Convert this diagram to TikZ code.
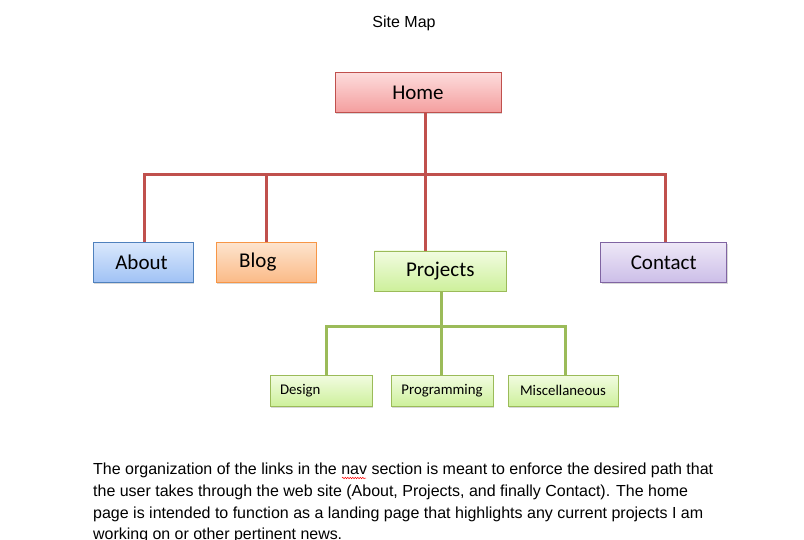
\documentclass[tikz,border=0pt]{standalone}
\usepackage{fontspec}
\setmainfont{Liberation Sans}
\newfontfamily\boxfont{Carlito}
\usepackage{graphicx}
\usetikzlibrary{shadows,decorations.pathmorphing}
\definecolor{redline}{RGB}{192,80,77}
\definecolor{greenline}{RGB}{155,187,89}
\definecolor{homeB}{RGB}{192,80,77}
\definecolor{homeT}{RGB}{253,220,220}
\definecolor{homeD}{RGB}{244,158,158}
\definecolor{aboutB}{RGB}{79,129,189}
\definecolor{aboutT}{RGB}{218,232,252}
\definecolor{aboutD}{RGB}{160,194,245}
\definecolor{blogB}{RGB}{247,150,70}
\definecolor{blogT}{RGB}{253,228,206}
\definecolor{blogD}{RGB}{251,186,135}
\definecolor{projB}{RGB}{155,187,89}
\definecolor{projT}{RGB}{242,252,225}
\definecolor{projD}{RGB}{205,240,155}
\definecolor{contB}{RGB}{128,100,162}
\definecolor{contT}{RGB}{238,232,247}
\definecolor{contD}{RGB}{204,190,232}
\tikzset{
  sbox/.style={draw, line width=0.9pt, inner sep=0pt, rectangle,
    font=\boxfont\fontsize{21}{25}\selectfont,
    drop shadow={shadow xshift=1pt, shadow yshift=-1.5pt, opacity=0.3}},
  smallbox/.style={sbox, draw=projB, top color=projT, bottom color=projD,
    minimum height=31pt, font=\boxfont\fontsize{14.8}{17}\selectfont},
  redconn/.style={draw=redline, line width=3pt},
  greenconn/.style={draw=greenline, line width=3pt},
  para/.style={anchor=base west, inner sep=0pt, font=\fontsize{16}{19}\selectfont}
}
\begin{document}
\begin{tikzpicture}[x=1pt,y=-1pt]
\useasboundingbox[fill=white] (0,0) rectangle (804,540);

\node[inner sep=0pt, anchor=base, font=\fontsize{16}{19}\selectfont] (title) at (404,27.5) {Site Map};

\coordinate (busL) at (144,174.3);
\coordinate (busR) at (665.5,174.3);
\coordinate (gbusL) at (326.5,326.5);
\coordinate (gbusR) at (565,326.5);

% boxes
\node[sbox, draw=homeB, top color=homeT, bottom color=homeD, minimum width=166pt, minimum height=40pt] (home) at (418,92.5) {Home};
\node[sbox, draw=aboutB, top color=aboutT, bottom color=aboutD, minimum width=100pt, minimum height=40pt] (about) at (143,262.3) {\hspace*{-3pt}About};
\node[sbox, draw=blogB, top color=blogT, bottom color=blogD, minimum width=100pt, minimum height=40pt] (blog) at (266.3,262.3) {\hspace*{-17pt}Blog};
\node[sbox, draw=projB, top color=projT, bottom color=projD, minimum width=132pt, minimum height=40pt] (projects) at (440.3,271) {Projects};
\node[sbox, draw=contB, top color=contT, bottom color=contD, minimum width=126pt, minimum height=40pt] (contact) at (663.7,262.3) {Contact};

\node[smallbox, minimum width=102pt, text width=82pt, align=left, inner xsep=10pt] (design) at (321,390.8) {Design};
\node[smallbox, minimum width=102pt] (prog) at (442,390.8) {Programming};
\node[smallbox, minimum width=110pt] (misc) at (563,390.8) {Miscellaneous};

% red connectors
\draw[redconn] ([xshift=1pt]about.north) -- (busL) -- (busR) -- ([xshift=1.8pt]contact.north);
\draw[redconn] (blog.north) -- (blog.north |- busL);
\draw[redconn] ([xshift=7pt]home.south) -- ([xshift=7pt]home.south |- projects.north);
% green connectors
\draw[greenconn] ([xshift=1.5pt]projects.south) -- ([xshift=1.5pt]projects.south |- prog.north);
\draw[greenconn] ([xshift=5.5pt]design.north) -- (gbusL) -- (gbusR) -- ([xshift=2pt]misc.north);

% paragraph
\node[para] (l1) at (93,474.5) {\resizebox{620pt}{\height}{The organization of the links in the nav section is meant to enforce the desired path that}};
\node[para] (l2) at (93,496.3) {\resizebox{595pt}{\height}{the user takes through the web site (About, Projects, and finally Contact). The home}};
\node[para] (l3) at (93,518) {\resizebox{610pt}{\height}{page is intended to function as a landing page that highlights any current projects  I am}};
\node[para] (l4) at (93,539.5) {\resizebox{249pt}{\height}{working on or other pertinent news.}};
\draw[red, line width=0.5pt, decorate, decoration={snake, amplitude=0.7pt, segment length=2.5pt}] (342,478) -- (366,478);
\end{tikzpicture}
\end{document}
